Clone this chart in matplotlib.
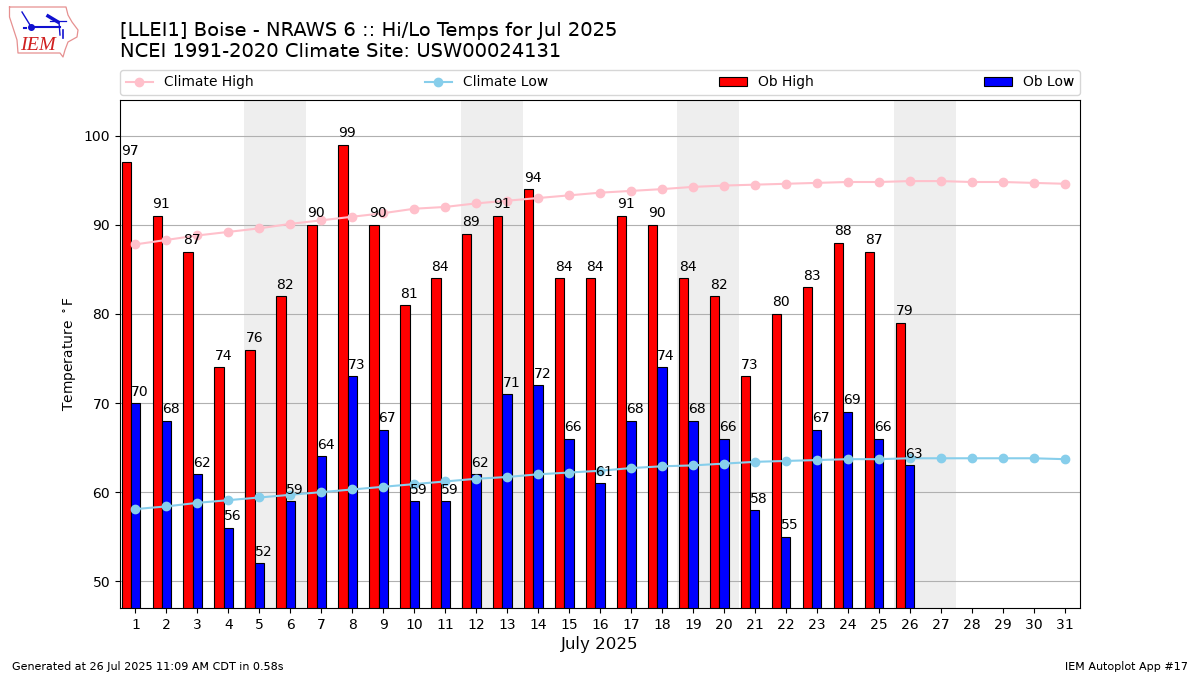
import numpy as np
import matplotlib
matplotlib.use("Agg")
import matplotlib.pyplot as plt

plt.rcParams["text.hinting"] = "no_autohint"

days = list(range(1, 32))
ob_high = [97, 91, 87, 74, 76, 82, 90, 99, 90, 81, 84, 89, 91, 94, 84, 84, 91, 90, 84, 82, 73, 80, 83, 88, 87, 79]
ob_low = [70, 68, 62, 56, 52, 59, 64, 73, 67, 59, 59, 62, 71, 72, 66, 61, 68, 74, 68, 66, 58, 55, 67, 69, 66, 63]
climate_high = [87.8, 88.3, 88.8, 89.2, 89.6, 90.1, 90.5, 90.9, 91.3, 91.8, 92.0, 92.4, 92.7, 93.0, 93.3, 93.6,
                93.8, 94.0, 94.25, 94.4, 94.5, 94.6, 94.7, 94.8, 94.8, 94.9, 94.9, 94.8, 94.8, 94.7, 94.6]
climate_low = [58.1, 58.4, 58.8, 59.1, 59.4, 59.7, 60.0, 60.3, 60.6, 60.9, 61.2, 61.5, 61.7, 62.0, 62.2, 62.4,
               62.7, 62.9, 63.0, 63.2, 63.4, 63.5, 63.6, 63.7, 63.7, 63.8, 63.8, 63.8, 63.8, 63.8, 63.7]
weekend_starts = [5, 12, 19, 26]

W, H = 1200, 675
fig = plt.figure(figsize=(12, 6.75), dpi=100)
ax = fig.add_axes([120 / W, 1 - 608 / H, 960 / W, 508 / H])

for d in weekend_starts:
    ax.axvspan(d - 0.5, d + 1.5, color="#eeeeee", lw=0, zorder=0)
ax.grid(axis="y", color="#b0b0b0", lw=0.8, zorder=1)
ax.set_axisbelow(True)

width = 0.3
high_x = np.arange(1, len(ob_high) + 1) - width
low_x = np.arange(1, len(ob_low) + 1)
b1 = ax.bar(high_x, ob_high, width, color="red", edgecolor="k", lw=0.8, label="Ob High", zorder=2)
b2 = ax.bar(low_x, ob_low, width, color="blue", edgecolor="k", lw=0.8, label="Ob Low", zorder=2)
l1, = ax.plot(days, climate_high, color="pink", marker="o", ms=6, lw=1.5, label="Climate High", zorder=3)
l2, = ax.plot(days, climate_low, color="skyblue", marker="o", ms=6, lw=1.5, label="Climate Low", zorder=3)

for x, v in zip(high_x, ob_high):
    ax.text(x - width / 2, v + 0.5, str(v), ha="left", va="bottom", fontsize=10, zorder=4)
for x, v in zip(low_x, ob_low):
    ax.text(x - width / 2, v + 0.5, str(v), ha="left", va="bottom", fontsize=10, zorder=4)

ax.set_xlim(0.5, 31.5)
ax.set_ylim(47, 104)
ax.set_xticks(days)
ax.set_yticks(range(50, 101, 10))
ax.set_xlabel("July 2025", fontsize=12, labelpad=3)
ax.set_ylabel(r"Temperature $^\circ$F")

ax.legend(handles=[l1, l2, b1, b2], ncol=4, mode="expand", loc="lower left",
          bbox_to_anchor=(0, 1.01, 1, 0.05), borderaxespad=0, fontsize=10)

fig.text(120 / W, 1 - 36 / H, "[LLEI1] Boise - NRAWS 6 :: Hi/Lo Temps for Jul 2025", fontsize=14, va="baseline")
fig.text(120 / W, 1 - 57 / H, "NCEI 1991-2020 Climate Site: USW00024131", fontsize=14, va="baseline")
fig.text(12 / W, 1 - 670 / H, "Generated at 26 Jul 2025 11:09 AM CDT in 0.58s", fontsize=8, va="baseline")
fig.text(1188 / W, 1 - 670 / H, "IEM Autoplot App #17", fontsize=8, ha="right", va="baseline")

# logo
logo = fig.add_axes([0, 1 - 60 / H, 90 / W, 60 / H])
logo.set_xlim(0, 90)
logo.set_ylim(60, 0)
logo.axis("off")
outline_x = [9.5, 66, 68, 72, 78, 77, 68, 65, 63, 60, 18, 17, 9.5, 9.5]
outline_y = [7, 7, 15, 22, 30, 37, 42, 50, 57, 53, 53, 40, 17, 7]
logo.plot(outline_x, outline_y, color="#e69090", lw=0.9)
blue = "#1010d0"
logo.plot([30, 60], [27, 27], color=blue, lw=1.5)
logo.plot([31], [27], "o", color=blue, ms=4)
logo.plot([22, 30], [12, 25], color=blue, lw=1)
logo.plot([48, 58], [16, 22], color=blue, lw=2.5)
logo.plot([50, 66], [21, 21], color=blue, lw=0.9)
logo.plot([59, 60], [22, 35], color=blue, lw=1)
logo.plot([63, 63], [30, 38], color=blue, lw=1.2)
logo.plot([24, 26], [28, 28], color=blue, lw=1.5)
logo.text(20.5, 45, "IEM", color="#d02020", fontsize=14.5, family="Liberation Serif", style="italic", va="center")

fig.savefig("out.png", dpi=100)
